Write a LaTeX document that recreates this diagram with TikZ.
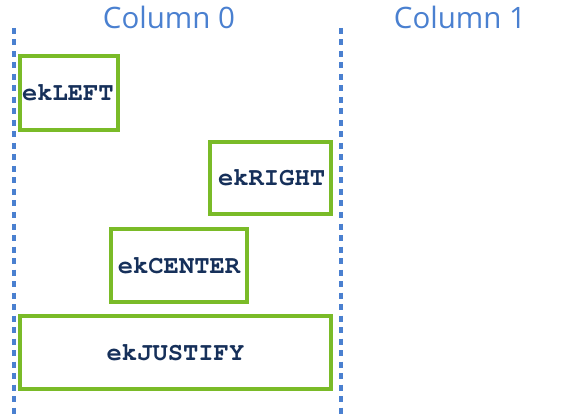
\documentclass[tikz,border=0pt]{standalone}
\usepackage[T1]{fontenc}
\usepackage{fontspec}
\newfontfamily\labelfont{Open Sans}
\newcommand{\kcodefont}{\fontencoding{T1}\fontfamily{pcr}\fontseries{b}\fontshape{n}\selectfont}
\definecolor{colblue}{RGB}{74,128,208}
\definecolor{boxgreen}{RGB}{122,187,40}
\definecolor{codenavy}{RGB}{22,48,90}
\begin{document}
\begin{tikzpicture}[x=1pt,y=-1pt,
  collabel/.style={font=\labelfont\fontsize{29.5}{31}\selectfont, text=colblue, inner sep=0pt},
  colline/.style={draw=colblue, line width=3.2pt, dash pattern=on 6pt off 5.5pt},
  kbox/.style={draw=boxgreen, line width=3.2pt, fill=white, inner ysep=0pt,
    font=\kcodefont\fontsize{25.5}{27}\selectfont, text=codenavy}]
\useasboundingbox (0,0) rectangle (576,417);
\node[collabel, anchor=base] (c0) at (169,29) {Column 0};
\node[collabel, anchor=base] (c1) at (460,29) {Column 1};
\coordinate (l0t) at (14,28); \coordinate (l0b) at (14,417);
\coordinate (l1t) at (341,28); \coordinate (l1b) at (341,417);
\draw[colline] (l0t) -- (l0b);
\draw[colline] (l1t) -- (l1b);
\node[kbox, minimum width=98pt, minimum height=74pt, text width=94pt, inner xsep=2pt, align=left] (left) at (69,93) {ekLEFT};
\node[kbox, minimum width=121pt, minimum height=72pt, text width=105pt, inner xsep=8pt, align=right] (right) at (270.5,178) {ekRIGHT};
\node[kbox, minimum width=136pt, minimum height=73pt, text width=126pt, inner xsep=5pt, align=center] (center) at (179,265.5) {ekCENTER};
\node[kbox, minimum width=311pt, minimum height=73pt, text width=301pt, inner xsep=5pt, align=center] (justify) at (175.5,352.5) {ekJUSTIFY};
\end{tikzpicture}
\end{document}
